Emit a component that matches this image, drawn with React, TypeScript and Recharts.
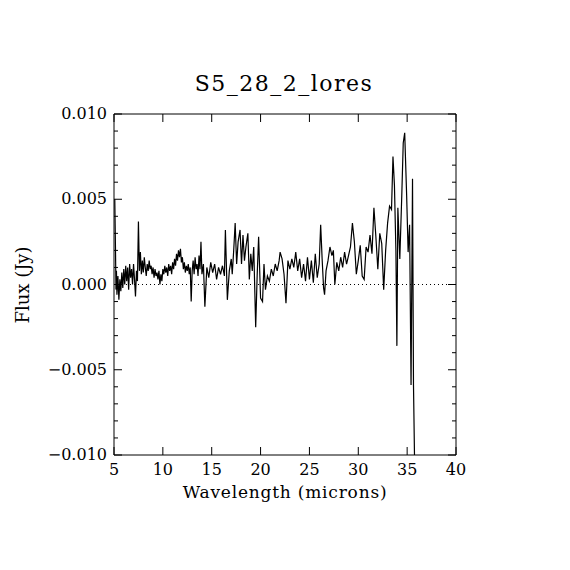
import React from 'react';
import { LineChart, Line, XAxis, YAxis, ReferenceLine } from 'recharts';

// wavelength (microns) and flux (Jy)
const wavelength = [
  5.08, 5.15, 5.2, 5.25, 5.3, 5.4, 5.5, 5.6, 5.7, 5.8, 5.9, 6.0,
  6.1, 6.2, 6.3, 6.4, 6.5, 6.6, 6.7, 6.8, 6.9, 7.0, 7.1, 7.2, 7.3, 7.4, 7.5, 7.6, 7.7, 7.8, 7.9,
  8.0, 8.1, 8.2, 8.3, 8.4, 8.5, 8.6, 8.7, 8.8, 8.9, 9.0, 9.1, 9.2, 9.3, 9.4, 9.5, 9.6, 9.7, 9.8, 9.9,
  10.0, 10.1, 10.2, 10.3, 10.4, 10.5, 10.6, 10.7, 10.8, 10.9, 11.0, 11.1, 11.2, 11.3, 11.4, 11.5, 11.6, 11.7, 11.8, 11.9,
  12.0, 12.1, 12.2, 12.3, 12.4, 12.5, 12.6, 12.7, 12.8, 12.9, 13.0, 13.1, 13.2, 13.3, 13.4, 13.5, 13.6, 13.7, 13.8, 13.9,
  14.0, 14.15, 14.3, 14.5, 14.7, 14.9, 15.1, 15.3, 15.5, 15.7, 15.9, 16.1, 16.3, 16.4, 16.6, 16.8,
  17.0, 17.1, 17.25, 17.4, 17.55, 17.7, 17.9, 18.05, 18.2, 18.35, 18.5, 18.7, 18.85, 19.0, 19.15, 19.3, 19.5, 19.65, 19.8,
  20.0, 20.2, 20.35, 20.5, 20.7, 20.9, 21.1, 21.3, 21.5, 21.7, 21.9, 22.0, 22.2, 22.4, 22.6, 22.8,
  23.0, 23.2, 23.4, 23.6, 23.8, 24.0, 24.2, 24.4, 24.6, 24.8, 25.0, 25.2, 25.4, 25.6, 25.8,
  26.0, 26.15, 26.3, 26.45, 26.55, 26.7, 26.9, 27.1, 27.3, 27.45, 27.6, 27.8, 28.0, 28.2, 28.4, 28.6, 28.8,
  29.0, 29.2, 29.4, 29.6, 29.8, 30.0, 30.2, 30.4, 30.6, 30.8, 31.0, 31.2, 31.4, 31.6, 31.8,
  32.0, 32.2, 32.4, 32.6, 32.8, 33.0, 33.2, 33.4, 33.55, 33.7, 33.85, 33.95, 34.05, 34.25, 34.45, 34.6, 34.75, 34.95,
  35.1, 35.25, 35.4, 35.55, 35.65, 35.8,
];

const flux = [
  0.0050, 0.0022, -0.0003, 0.0008, -0.0006, 0.0005, -0.0009, 0.0003, -0.0004, 0.0007, -0.0002, 0.0009,
  0.0000, 0.0011, 0.0002, 0.0010, -0.0003, 0.0012, 0.0004, 0.0009, 0.0000, 0.0012, 0.0003, -0.0007, 0.0008, 0.0002, 0.0037, 0.0008, 0.0019, 0.0006, 0.0014,
  0.0007, 0.0016, 0.0010, 0.0005, 0.0012, 0.0008, 0.0014, 0.0009, 0.0011, 0.0006, 0.0010, 0.0004, 0.0009, 0.0005, 0.0007, 0.0003, 0.0008, 0.0000, 0.0006, 0.0002,
  0.0009, 0.0006, 0.0011, 0.0007, 0.0010, 0.0005, 0.0012, 0.0008, 0.0011, 0.0006, 0.0013, 0.0009, 0.0015, 0.0011, 0.0018, 0.0014, 0.0020, 0.0016, 0.0021, 0.0013,
  0.0016, 0.0009, 0.0013, 0.0007, 0.0011, 0.0008, 0.0012, 0.0006, 0.0010, -0.0010, 0.0008, 0.0014, 0.0006, 0.0016, 0.0009, 0.0012, 0.0005, 0.0017, 0.0009, 0.0025,
  0.0006, 0.0012, -0.0013, 0.0010, 0.0004, 0.0013, 0.0007, 0.0012, 0.0003, 0.0010, 0.0006, 0.0011, 0.0005, 0.0032, -0.0009, 0.0008,
  0.0015, 0.0006, 0.0020, 0.0036, 0.0012, 0.0025, 0.0032, 0.0012, 0.0029, 0.0014, 0.0022, 0.0030, 0.0003, 0.0018, 0.0008, 0.0022, -0.0025, 0.0005, 0.0028,
  -0.0008, -0.0010, 0.0012, -0.0003, 0.0005, 0.0002, 0.0009, 0.0005, 0.0012, 0.0008, 0.0014, 0.0019, 0.0015, 0.0006, -0.0011, 0.0014,
  0.0009, 0.0015, 0.0010, 0.0019, 0.0008, 0.0015, 0.0004, 0.0012, 0.0002, 0.0016, 0.0003, 0.0014, 0.0001, 0.0018, 0.0004,
  0.0012, 0.0035, 0.0015, -0.0002, -0.0006, 0.0008, 0.0014, 0.0022, 0.0017, 0.0020, 0.0000, 0.0013, 0.0008, 0.0016, 0.0010, 0.0019, 0.0012,
  0.0017, 0.0022, 0.0036, 0.0025, 0.0006, 0.0014, 0.0023, 0.0005, 0.0003, 0.0022, 0.0019, 0.0029, 0.0018, 0.0045, 0.0028,
  0.0009, 0.0030, 0.0024, -0.0003, 0.0020, 0.0036, 0.0046, 0.0044, 0.0075, 0.0058, 0.0020, -0.0036, 0.0045, 0.0015, 0.0052, 0.0083, 0.0089, 0.0052,
  0.0019, 0.0035, -0.0059, 0.0062, -0.0059, -0.0120,
];

const xTicks = [5, 10, 15, 20, 25, 30, 35, 40];
const yTicks = [
  -0.01, -0.009, -0.008, -0.007, -0.006, -0.005, -0.004, -0.003, -0.002, -0.001, 0,
  0.001, 0.002, 0.003, 0.004, 0.005, 0.006, 0.007, 0.008, 0.009, 0.01,
];

const FONT = '"DejaVu Serif", serif';

const chartData = wavelength.map((w, i) => ({ w, f: flux[i] }));

const isMajorY = (v: number) => Math.abs(Math.round(v * 1000)) % 5 === 0;

const fmtY = (v: number) => {
  const s = Math.abs(v).toFixed(3);
  return v < -1e-9 ? '\u2212' + s : s;
};

const BottomTick = ({ x, y, payload }: any) => (
  <g>
    <line x1={x} y1={y} x2={x} y2={y - 8} stroke="#000" />
    <text x={x} y={y + 20} textAnchor="middle" fontFamily={FONT} fontSize={16} fill="#000">
      {payload.value}
    </text>
  </g>
);

const TopTick = ({ x, y }: any) => (
  <line x1={x} y1={y} x2={x} y2={y + 8} stroke="#000" />
);

const LeftTick = ({ x, y, payload }: any) => {
  const major = isMajorY(payload.value);
  return (
    <g>
      <line x1={x} y1={y} x2={x + (major ? 8 : 4)} y2={y} stroke="#000" />
      {major && (
        <text x={x - 7} y={y + 5} textAnchor="end" fontFamily={FONT} fontSize={16} fill="#000">
          {fmtY(payload.value)}
        </text>
      )}
    </g>
  );
};

const RightTick = ({ x, y, payload }: any) => {
  const major = isMajorY(payload.value);
  return <line x1={x} y1={y} x2={x - (major ? 8 : 4)} y2={y} stroke="#000" />;
};

export default function App() {
  return (
    <div style={{ position: 'absolute', left: 0, top: 0, width: 570, height: 570, background: '#fff' }}>
      <LineChart
        width={570}
        height={570}
        data={chartData}
        margin={{ top: 84, right: 84, bottom: 85, left: 54 }}
      >
        <XAxis
          xAxisId="b"
          dataKey="w"
          type="number"
          domain={[5, 40]}
          ticks={xTicks}
          allowDataOverflow
          height={30}
          tickSize={0}
          tickMargin={0}
          tickLine={false}
          tick={<BottomTick />}
          axisLine={{ stroke: '#000' }}
        />
        <XAxis
          xAxisId="t"
          orientation="top"
          dataKey="w"
          type="number"
          domain={[5, 40]}
          ticks={xTicks}
          allowDataOverflow
          height={30}
          tickSize={0}
          tickMargin={0}
          tickLine={false}
          tick={<TopTick />}
          axisLine={{ stroke: '#000' }}
        />
        <YAxis
          yAxisId="l"
          type="number"
          domain={[-0.01, 0.01]}
          ticks={yTicks}
          allowDataOverflow
          width={60}
          tickSize={0}
          tickMargin={0}
          tickLine={false}
          tick={<LeftTick />}
          axisLine={{ stroke: '#000' }}
          interval={0}
        />
        <YAxis
          yAxisId="r"
          orientation="right"
          type="number"
          domain={[-0.01, 0.01]}
          ticks={yTicks}
          allowDataOverflow
          width={30}
          tickSize={0}
          tickMargin={0}
          tickLine={false}
          tick={<RightTick />}
          axisLine={{ stroke: '#000' }}
          interval={0}
        />
        <ReferenceLine xAxisId="b" yAxisId="l" y={0} stroke="#000" strokeDasharray="1 3" />
        <Line
          xAxisId="b"
          yAxisId="l"
          dataKey="f"
          type="linear"
          stroke="#000"
          strokeWidth={1.2}
          dot={false}
          isAnimationActive={false}
        />
        <text x={284} y={91} textAnchor="middle" fontFamily={FONT} fontSize={22} letterSpacing={1.5} fill="#000">
          S5_28_2_lores
        </text>
        <text x={285} y={498} textAnchor="middle" fontFamily={FONT} fontSize={17} letterSpacing={0.8} fill="#000">
          Wavelength (microns)
        </text>
        <text
          x={29}
          y={285}
          textAnchor="middle"
          fontFamily={FONT}
          fontSize={18}
          fill="#000"
          transform="rotate(-90 29 285)"
        >
          Flux (Jy)
        </text>
      </LineChart>
    </div>
  );
}
